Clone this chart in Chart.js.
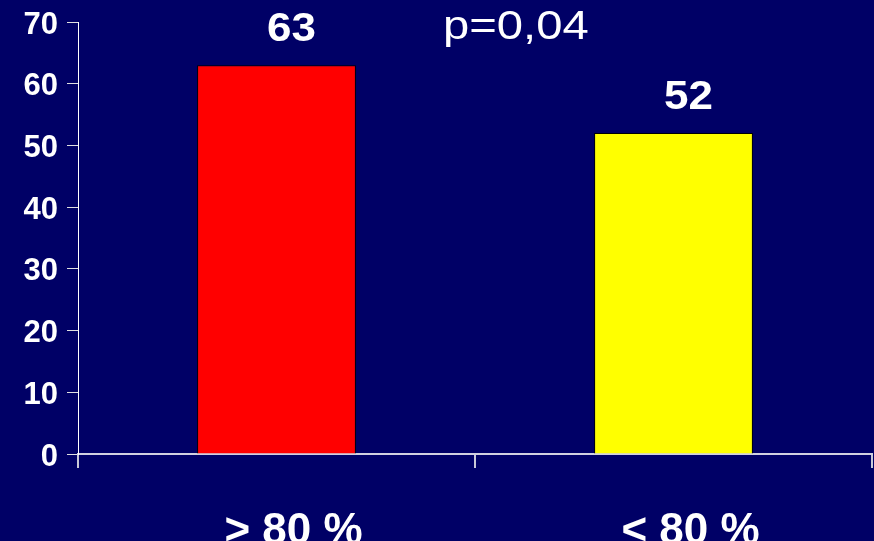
<!DOCTYPE html>
<html>
<head>
<meta charset="utf-8">
<script src="https://cdn.jsdelivr.net/npm/chart.js@4/dist/chart.umd.min.js"></script>
<style>
  html, body { margin: 0; padding: 0; background: #000066; }
  #wrap { width: 874px; height: 541px; position: relative; }
</style>
</head>
<body>
<div id="wrap"><canvas id="c" width="874" height="541"></canvas></div>
<script>
// Share of patients by adherence group
const categories = ['> 80 %', '< 80 %'];
const values = [63, 52];
const barColors = ['#ff0000', '#ffff00'];
const yTicks = [0, 10, 20, 30, 40, 50, 60, 70];
const pValueText = 'p=0,04';

const FONT = '"Liberation Sans", Arial, sans-serif';

// Draw text slightly widened horizontally
function wideText(ctx, text, x, y, sx) {
  ctx.save();
  ctx.translate(x, y);
  ctx.scale(sx, 1);
  ctx.fillText(text, 0, 0);
  ctx.restore();
}

// Value labels above bars and the p-value note
const annotate = {
  id: 'annotate',
  afterDatasetsDraw(chart) {
    const ctx = chart.ctx;
    const meta = chart.getDatasetMeta(0);
    ctx.save();
    ctx.fillStyle = '#ffffff';
    ctx.textAlign = 'center';
    ctx.textBaseline = 'middle';
    ctx.font = 'bold 40px ' + FONT;
    meta.data.forEach((bar, i) => {
      wideText(ctx, String(values[i]), bar.x + 15, bar.y - 35, 1.1);
    });
    ctx.font = '40px ' + FONT;
    ctx.textAlign = 'left';
    wideText(ctx, pValueText, 443, 28, 1.18);
    ctx.restore();
  }
};

new Chart(document.getElementById('c'), {
  type: 'bar',
  data: {
    labels: categories,
    datasets: [{
      data: values,
      backgroundColor: barColors,
      borderColor: '#000000',
      borderWidth: 1,
      barPercentage: 0.4,
      categoryPercentage: 1.0
    }]
  },
  plugins: [annotate],
  options: {
    responsive: false,
    animation: false,
    events: [],
    layout: { autoPadding: false, padding: { top: 22, right: 2, left: 0, bottom: 0 } },
    plugins: { legend: { display: false }, tooltip: { enabled: false } },
    scales: {
      x: {
        grid: { drawOnChartArea: false, color: '#c8c8d8', tickLength: 14, lineWidth: 2, offset: true },
        border: { color: '#d0d0e0', width: 2 },
        ticks: { color: '#ffffff', font: { family: FONT, size: 44, weight: 'bold' }, padding: 37, labelOffset: 17 },
        afterFit(scale) { scale.height = 87; scale.paddingLeft = 0; scale.paddingRight = 0; }
      },
      y: {
        min: 0, max: 70,
        afterBuildTicks(scale) { scale.ticks = yTicks.map(v => ({ value: v })); },
        grid: { drawOnChartArea: false, color: '#e0e0e0', tickLength: 11, lineWidth: 1 },
        border: { color: '#ffffff', width: 1 },
        ticks: { color: '#ffffff', font: { family: FONT, size: 31, weight: 'bold' }, padding: 9, labelOffset: 3 },
        afterFit(scale) { scale.width = 78; scale.paddingTop = 0; scale.paddingBottom = 0; }
      }
    }
  }
});
</script>
</body>
</html>
